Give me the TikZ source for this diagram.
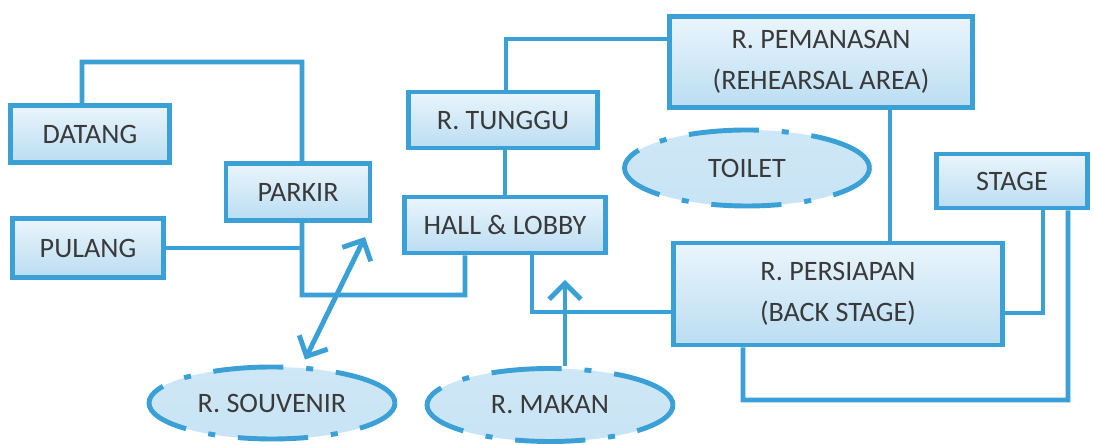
\documentclass[tikz,border=0pt]{standalone}
\usepackage{fontspec}
\setmainfont{Carlito}
\usetikzlibrary{arrows.meta, shapes.geometric}
\definecolor{garis}{HTML}{3AA0D5}
\definecolor{isiatas}{HTML}{EAF5FC}
\definecolor{isibawah}{HTML}{BADDF2}
\definecolor{teks}{HTML}{3A3A3A}
\begin{document}
\begin{tikzpicture}[
    ruang/.style={rectangle, draw=garis, line width=2.8pt, top color=isiatas, bottom color=isibawah, text=teks, font=\fontsize{16}{23}\selectfont, align=center, inner sep=0pt},
    fasilitas/.style={ellipse, draw=garis, line width=2.8pt, dash pattern=on 40pt off 13pt on 4pt off 13pt, top color=isibawah!70, middle color=isiatas, bottom color=isibawah!80, text=teks, font=\fontsize{16}{19}\selectfont, inner sep=0pt},
    alur/.style={draw=garis, line width=2.8pt},
    ujung/.tip={Straight Barb[length=9pt,width=18pt,line width=2.8pt]},
    panah/.style={alur, -ujung}
]
    \useasboundingbox (0,0) rectangle (21.88,8.9);

    % Pintu masuk dan keluar
    \node[ruang, minimum width=3.18cm, minimum height=1.14cm] (datang) at (1.80,6.22) {DATANG};
    \node[ruang, minimum width=3.02cm, minimum height=1.18cm] (pulang) at (1.76,3.94) {PULANG};
    \node[ruang, minimum width=2.88cm, minimum height=1.14cm] (parkir) at (5.96,5.06) {PARKIR};

    % Ruang tengah
    \node[ruang, minimum width=3.78cm, minimum height=1.12cm] (tunggu) at (10.06,6.50) {R. TUNGGU};
    \node[ruang, minimum width=4.02cm, minimum height=1.12cm] (hall) at (10.10,4.40) {HALL \& LOBBY};

    % Ruang pentas
    \node[ruang, minimum width=6.06cm, minimum height=1.82cm] (pemanasan) at (16.42,7.66) {R. PEMANASAN\\(REHEARSAL AREA)};
    \node[ruang, minimum width=6.58cm, minimum height=2.04cm] (persiapan) at (16.76,3.02) {R. PERSIAPAN\\(BACK STAGE)};
    \node[ruang, minimum width=3.02cm, minimum height=1.08cm] (stage) at (20.24,5.28) {STAGE};

    % Fasilitas
    \node[fasilitas, minimum width=4.90cm, minimum height=1.52cm] (toilet) at (14.94,5.54) {TOILET};
    \node[fasilitas, minimum width=4.92cm, minimum height=1.44cm] (souvenir) at (5.44,0.84) {R. SOUVENIR};
    \node[fasilitas, minimum width=4.92cm, minimum height=1.46cm] (makan) at (11.00,0.80) {R. MAKAN};

    % Titik belok
    \coordinate (b1) at (6.04,7.66);
    \coordinate (b2) at (6.04,3.00);
    \coordinate (b3) at (21.36,0.90);
    \coordinate (u1) at (11.30,3.30);
    \coordinate (u2) at (7.30,4.16);

    % Alur
    \draw[alur] ([xshift=-0.16cm]datang.north) |- (b1) -- ([xshift=0.08cm]parkir.north);
    \draw[alur] ([xshift=0.08cm]parkir.south) -- (b2) -| ([xshift=-0.80cm]hall.south);
    \draw[alur] (pulang.east) -- (pulang.east -| b2);
    \draw[alur] (tunggu.south -| hall.north) -- (hall.north);
    \draw[alur] ([xshift=0.06cm]tunggu.north) |- ([yshift=0.46cm]pemanasan.west);
    \draw[alur] ([xshift=1.38cm]pemanasan.south) -- ([xshift=1.38cm]pemanasan.south |- persiapan.north);
    \draw[alur] ([xshift=0.54cm]hall.south) |- ([yshift=-0.36cm]persiapan.west);
    \draw[alur] ([xshift=0.62cm]stage.south) |- ([yshift=-0.38cm]persiapan.east);
    \draw[alur] ([xshift=1.12cm]stage.south) -- (b3) -| ([xshift=-1.90cm]persiapan.south);

    % Panah
    \draw[panah] ([xshift=0.30cm]makan.north) -- (u1);
    \draw[alur, ujung-ujung] ([xshift=0.66cm,yshift=0.1cm]souvenir.north) -- (u2);
\end{tikzpicture}
\end{document}
